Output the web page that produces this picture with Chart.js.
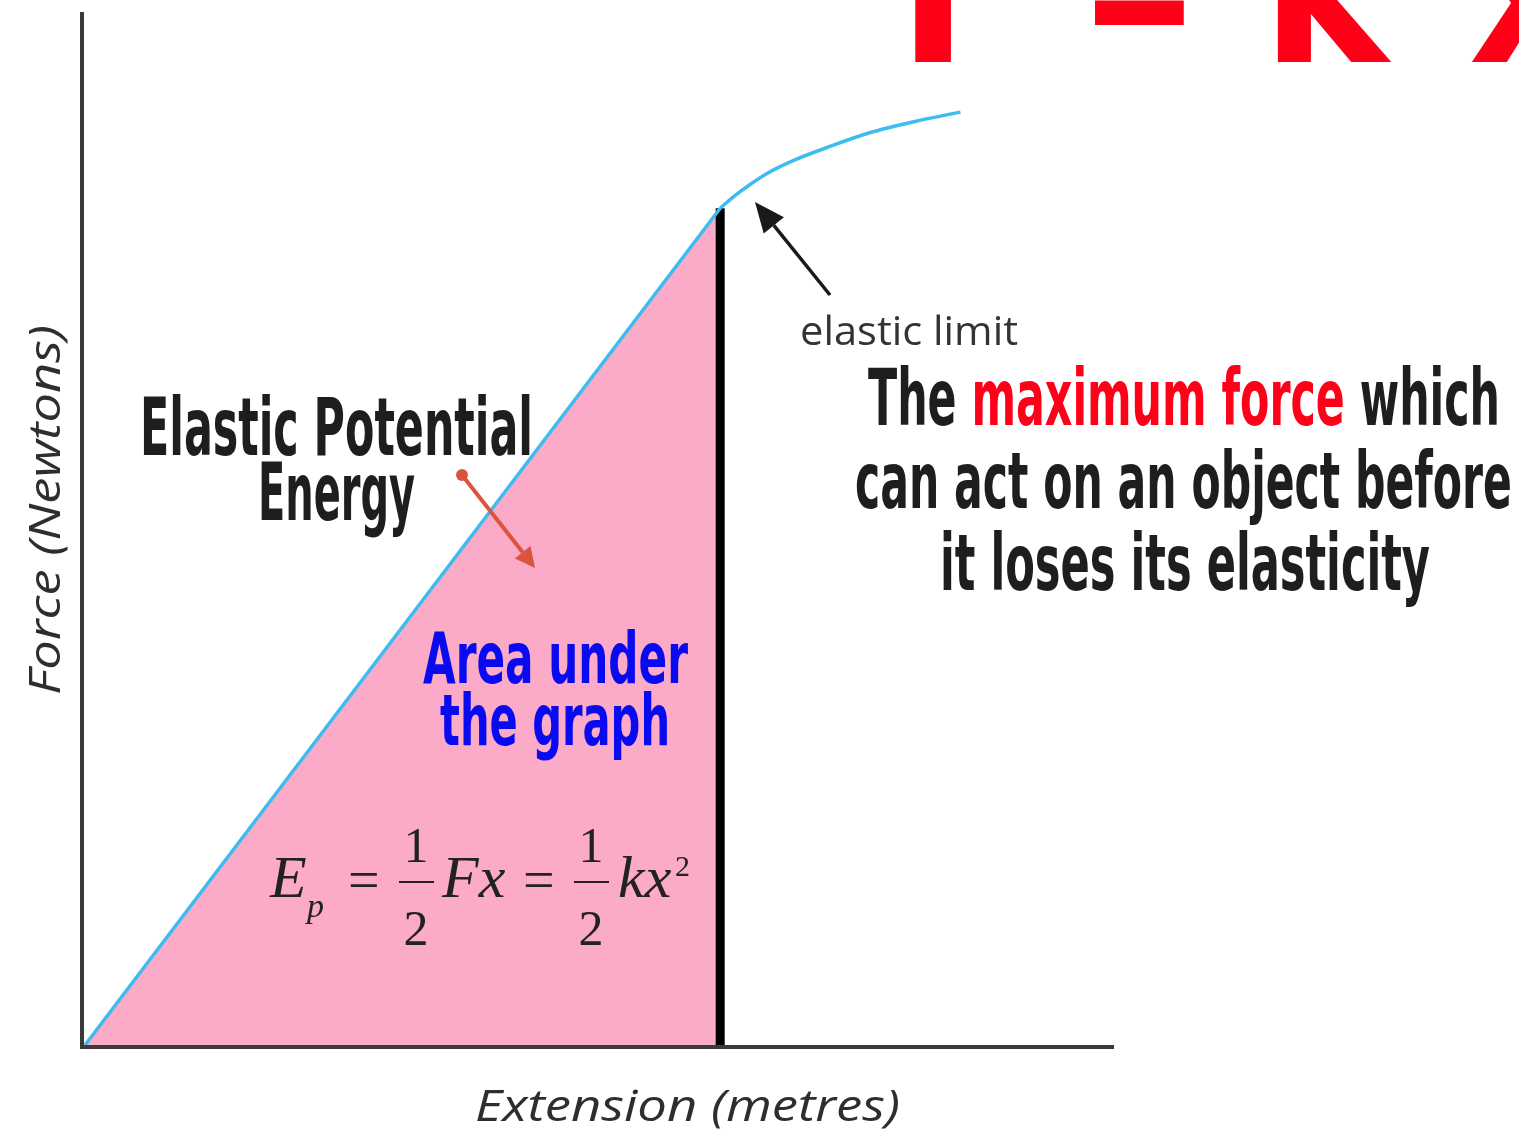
<!DOCTYPE html>
<html>
<head>
<meta charset="utf-8">
<title>Elastic Potential Energy</title>
<script src="https://cdn.jsdelivr.net/npm/chart.js@4.4.0/dist/chart.umd.min.js"></script>
<style>
  html, body { margin: 0; padding: 0; background: #fff; }
  canvas { display: block; }
</style>
</head>
<body>
<canvas id="forceGraph" width="1519" height="1130"></canvas>
<script>
// straight part (obeys Hooke's law) up to the elastic limit
var elasticExt = [0.3, 61.9];
var elasticForce = [0.2, 81.2];

// after the elastic limit the line bends over
var plasticExt = [61.9, 63.3, 64.8, 66.7, 69.2, 72.6, 76.4, 80.8, 85.2];
var plasticForce = [81.2, 82.4, 83.5, 84.7, 85.9, 87.2, 88.5, 89.6, 90.5];

// thick black line marking the elastic limit
var limitExt = [61.9, 61.9];
var limitForce = [0, 81.2];

var xTitle = 'Extension (metres)';
var yTitle = 'Force (Newtons)';

var narrow = '"Liberation Sans Narrow", "DejaVu Sans Condensed", Roboto, sans-serif';
var serif = '"Liberation Serif", "DejaVu Serif", serif';
var pink = '#fbaac7';
var blue = '#3dbcef';

function toPoints(xs, ys){
  var pts = [];
  for (var i = 0; i < xs.length; i++){
    pts.push({x: xs[i], y: ys[i]});
  }
  return pts;
};

// draws text squeezed/stretched to a given width, parts = [[text, colour], ...]
function fitText(ctx, parts, left, base, width, font){
  ctx.font = font;
  var total = 0;
  for (var i = 0; i < parts.length; i++){
    total += ctx.measureText(parts[i][0]).width;
  }
  ctx.save();
  ctx.translate(left, base);
  ctx.scale(width / total, 1);
  var x = 0;
  for (var j = 0; j < parts.length; j++){
    ctx.fillStyle = parts[j][1];
    ctx.fillText(parts[j][0], x, 0);
    x += ctx.measureText(parts[j][0]).width;
  }
  ctx.restore();
};

// one glyph drawn with a horizontal squeeze
function squeezed(ctx, txt, left, base, sx){
  ctx.save();
  ctx.translate(left, base);
  ctx.scale(sx, 1);
  ctx.fillText(txt, 0, 0);
  ctx.restore();
};

function arrow(ctx, x1, y1, x2, y2, color, lw, headLen, headW){
  var a = Math.atan2(y2 - y1, x2 - x1);
  var bx = x2 - headLen * Math.cos(a);
  var by = y2 - headLen * Math.sin(a);
  ctx.strokeStyle = color;
  ctx.fillStyle = color;
  ctx.lineWidth = lw;
  ctx.beginPath();
  ctx.moveTo(x1, y1);
  ctx.lineTo(bx, by);
  ctx.stroke();
  ctx.beginPath();
  ctx.moveTo(x2, y2);
  ctx.lineTo(bx + headW / 2 * Math.sin(a), by - headW / 2 * Math.cos(a));
  ctx.lineTo(bx - headW / 2 * Math.sin(a), by + headW / 2 * Math.cos(a));
  ctx.closePath();
  ctx.fill();
};

function centred(ctx, txt, cx, base, font, color){
  ctx.font = font;
  ctx.fillStyle = color;
  var w = ctx.measureText(txt).width;
  ctx.fillText(txt, cx - w / 2, base);
};

var labelsPlugin = {
  id: 'labels',
  afterDraw: function(chart){
    var ctx = chart.ctx;
    ctx.save();
    ctx.textBaseline = 'alphabetic';
    ctx.textAlign = 'left';

    // big red heading "F = kx", mostly off the top of the picture
    ctx.font = 'bold 210px ' + narrow;
    ctx.fillStyle = '#ff0019';
    ctx.fillText('F', 898, 62);
    squeezed(ctx, '=', 1080, 55, 0.75);
    ctx.fillText('k', 1262, 62);
    ctx.fillText('x', 1469, 62);

    // axis titles
    fitText(ctx, [[xTitle, '#2e2e2e']], 475, 1121, 425, 'italic 44px "Open Sans", sans-serif');
    ctx.save();
    ctx.translate(60, 695);
    ctx.rotate(-Math.PI / 2);
    fitText(ctx, [[yTitle, '#2e2e2e']], 0, 0, 370, 'italic 44px "Open Sans", sans-serif');
    ctx.restore();

    // left annotation
    fitText(ctx, [['Elastic Potential', '#1e1e1e']], 140, 455, 393, 'bold 80px ' + narrow);
    fitText(ctx, [['Energy', '#1e1e1e']], 258, 520, 157, 'bold 80px ' + narrow);
    ctx.fillStyle = '#db5440';
    ctx.beginPath();
    ctx.arc(462, 475, 6, 0, Math.PI * 2);
    ctx.fill();
    arrow(ctx, 462, 475, 535, 568, '#db5440', 4, 20, 20);

    fitText(ctx, [['Area under', '#0a0af0']], 423, 683, 265, 'bold 72px ' + narrow);
    fitText(ctx, [['the graph', '#0a0af0']], 440, 745, 230, 'bold 72px ' + narrow);

    // formula  Ep = 1/2 Fx = 1/2 kx^2
    var ink = '#222';
    ctx.fillStyle = ink;
    ctx.font = 'italic 60px ' + serif;
    ctx.fillText('E', 270, 897);
    ctx.font = 'italic 34px ' + serif;
    ctx.fillText('p', 307, 917);
    ctx.font = '56px ' + serif;
    ctx.fillText('=', 348, 899);
    centred(ctx, '1', 416, 862, '50px ' + serif, ink);
    centred(ctx, '2', 416, 945, '50px ' + serif, ink);
    ctx.fillRect(399, 881, 35, 2);
    ctx.font = 'italic 60px ' + serif;
    ctx.fillText('Fx', 442, 897);
    ctx.font = '56px ' + serif;
    ctx.fillText('=', 523, 899);
    centred(ctx, '1', 591, 862, '50px ' + serif, ink);
    centred(ctx, '2', 591, 945, '50px ' + serif, ink);
    ctx.fillRect(574, 881, 35, 2);
    ctx.font = 'italic 60px ' + serif;
    ctx.fillText('kx', 618, 897);
    ctx.font = '30px ' + serif;
    ctx.fillText('2', 675, 876);

    // elastic limit pointer and note
    arrow(ctx, 830, 295, 755, 202, '#1a1a1a', 3.5, 30, 26);
    fitText(ctx, [['elastic limit', '#333']], 800, 345, 218, '40px "Open Sans", sans-serif');

    fitText(ctx, [['The ', '#1e1e1e'], ['maximum force', '#ff0019'], [' which', '#1e1e1e']], 868, 425, 632, 'bold 78px ' + narrow);
    fitText(ctx, [['can act on an object before', '#1e1e1e']], 855, 508, 657, 'bold 78px ' + narrow);
    fitText(ctx, [['it loses its elasticity', '#1e1e1e']], 940, 590, 490, 'bold 78px ' + narrow);

    ctx.restore();
  }
};

function printForceGraph(){
  var ctx = document.getElementById('forceGraph').getContext('2d');
  var myChart = new Chart(ctx, {
    type: 'line',
    data: {
      datasets: [{
        label: 'area',
        data: toPoints(elasticExt, elasticForce),
        borderWidth: 0,
        backgroundColor: pink,
        fill: 'origin',
        pointRadius: 0,
        order: 3
      }, {
        label: 'elastic limit',
        data: toPoints(limitExt, limitForce),
        borderColor: '#000',
        borderWidth: 9,
        borderCapStyle: 'butt',
        pointRadius: 0,
        fill: false,
        order: 2
      }, {
        label: 'elastic',
        data: toPoints(elasticExt, elasticForce),
        borderColor: blue,
        borderWidth: 3.5,
        pointRadius: 0,
        fill: false,
        order: 1
      }, {
        label: 'plastic',
        data: toPoints(plasticExt, plasticForce),
        borderColor: blue,
        borderWidth: 3.5,
        pointRadius: 0,
        cubicInterpolationMode: 'monotone',
        fill: false,
        order: 1
      }]
    },
    options: {
      responsive: false,
      devicePixelRatio: 1,
      animation: false,
      events: [],
      layout: {
        padding: { left: 82, top: 14, right: 406, bottom: 83 }
      },
      plugins: {
        legend: { display: false },
        tooltip: { enabled: false },
        title: { display: false }
      },
      scales: {
        x: {
          type: 'linear',
          min: 0,
          max: 100,
          grid: { display: false, drawTicks: false },
          ticks: { display: false },
          border: { display: true, color: '#3a3a3a', width: 4, z: 1 }
        },
        y: {
          type: 'linear',
          min: 0,
          max: 100,
          grid: { display: false, drawTicks: false },
          ticks: { display: false },
          border: { display: true, color: '#3a3a3a', width: 4, z: 1 }
        }
      }
    },
    plugins: [labelsPlugin]
  });
};

printForceGraph();
</script>
</body>
</html>
